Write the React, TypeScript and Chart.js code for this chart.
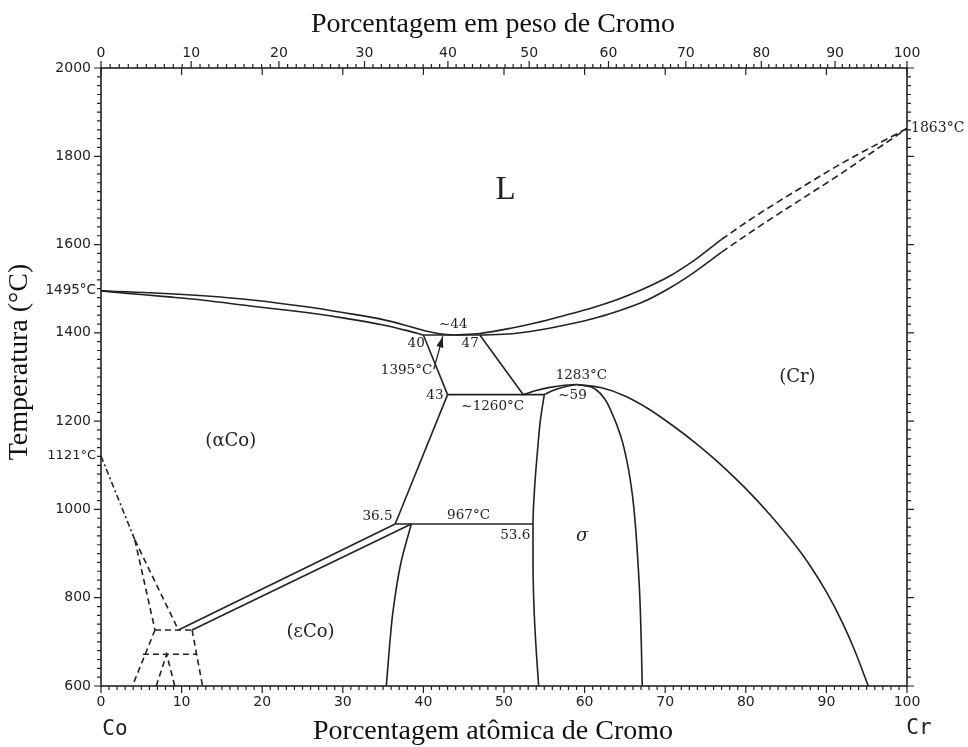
import React, { useEffect, useRef } from "react";
import { Chart, registerables } from "chart.js";

Chart.register(...registerables);

type Pt = [number, number];

// Atomic masses, used to place the weight-percent scale over the atomic-percent one
const MASS_CO = 58.933;
const MASS_CR = 51.996;

// Axis ticks
const AT_TICKS = [0, 10, 20, 30, 40, 50, 60, 70, 80, 90, 100];
const WT_TICKS = [0, 10, 20, 30, 40, 50, 60, 70, 80, 90, 100];
const T_TICKS = [600, 800, 1000, 1200, 1400, 1600, 1800, 2000];

// Liquid / solid two-phase fields (x = at.% Cr, y = °C)
const LIQUIDUS_CO_SIDE: Pt[] = [
  [0, 1495], [6, 1491], [12.7, 1484], [19, 1474], [25.5, 1459], [30, 1446],
  [35, 1430], [38, 1416], [40.3, 1404], [42, 1398], [44, 1395],
];
const SOLIDUS_CO_SIDE: Pt[] = [
  [0, 1495], [3, 1490], [8, 1482], [12.7, 1474], [18.5, 1461], [25.5, 1446],
  [30, 1434], [35, 1418], [38, 1405], [40, 1395],
];
const LIQUIDUS_CR_SIDE: Pt[] = [
  [44, 1395], [47, 1398.5], [51, 1411], [54, 1423], [57.6, 1440], [61, 1457],
  [64, 1475], [67, 1497], [70.4, 1527], [73.5, 1563], [77, 1612],
];
const SOLIDUS_CR_SIDE: Pt[] = [
  [47, 1395], [51, 1398], [54, 1405.5], [57.6, 1418], [61, 1432], [64, 1448.5],
  [67, 1468], [70.4, 1500], [73.5, 1536], [77, 1583],
];
const LIQUIDUS_CR_EXT: Pt[] = [[77, 1612], [81, 1662], [86.7, 1727], [92, 1785], [100, 1863]];
const SOLIDUS_CR_EXT: Pt[] = [[77, 1583], [82, 1645], [87, 1704], [92, 1763], [96, 1813], [100, 1863]];

// Invariant reactions and solid-state boundaries
const ISO_1395: Pt[] = [[40, 1395], [47, 1395]];
const ALPHA_EDGE_HIGH: Pt[] = [[40, 1395], [43, 1260]];
const CR_EDGE_HIGH: Pt[] = [[47, 1395], [52.4, 1260]];
const ISO_1260: Pt[] = [[43, 1260], [55, 1260]];
const CR_SOLVUS_RISE: Pt[] = [[52.4, 1260], [54, 1269.5], [55.7, 1276.5], [57.5, 1281.3], [59, 1283]];
const CR_SOLVUS_FALL: Pt[] = [
  [59, 1283], [62, 1276], [65, 1257], [68, 1227], [71, 1189], [74, 1147], [77, 1100],
  [80, 1047], [83, 988], [86, 922], [88, 872], [90, 813], [92, 743], [93.5, 681], [95.2, 600],
];
const SIGMA_TOP_LEFT: Pt[] = [[55, 1260], [56, 1269], [57.8, 1279], [59, 1283]];
const SIGMA_RIGHT: Pt[] = [
  [59, 1283], [60.5, 1279], [61.5, 1270], [62.5, 1250], [63.3, 1222], [64.5, 1165],
  [65.3, 1105], [65.95, 1030], [66.35, 953], [66.62, 880], [66.85, 802], [67.03, 700], [67.15, 600],
];
const SIGMA_LEFT: Pt[] = [
  [55, 1260], [54.5, 1200], [54.2, 1142], [53.8, 1050], [53.6, 967], [53.6, 880],
  [53.75, 765], [54, 680], [54.3, 600],
];
const ALPHA_EDGE_LOW: Pt[] = [[43, 1260], [36.5, 967]];
const ISO_967: Pt[] = [[36.5, 967], [53.6, 967]];
const EPS_SOLVUS: Pt[] = [[38.5, 967], [37.2, 878], [36.2, 765], [35.8, 690], [35.4, 600]];
const BAND_UPPER: Pt[] = [[9.6, 727], [36.5, 967]];
const BAND_LOWER: Pt[] = [[11.3, 727], [38.5, 967]];

// Uncertain low-temperature region near pure Co
const CO_ALLOTROPIC: Pt[] = [[0, 1121], [4.2, 931]];
const DASH_BRANCH_A: Pt[] = [[4.2, 931], [6.7, 727]];
const DASH_BRANCH_B: Pt[] = [[4.2, 931], [9.6, 727]];
const DASH_ISO_727: Pt[] = [[6.7, 727], [11.3, 727]];
const DASH_LEFT_LOW: Pt[] = [[6.7, 727], [3.9, 600]];
const DASH_RIGHT_LOW: Pt[] = [[11.3, 727], [12.6, 600]];
const DASH_ISO_672: Pt[] = [[5.2, 672], [11.9, 672]];
const DASH_PEAK: Pt[] = [[6.85, 600], [8.15, 672], [9.15, 600]];

// Pointer from the 1395 °C note to the congruent minimum
const ARROW: Pt[] = [[41.3, 1318], [42.4, 1392]];

const INK = "#222";
const TICK_FONT = { family: "DejaVu Sans", size: 14 };
const NOTE_FONT = '13.5px "DejaVu Serif"';
const PHASE_FONT = '18px "DejaVu Serif"';

type Note = { text: string; x: number; t: number; align: CanvasTextAlign; font: string; dx?: number };
const NOTES: Note[] = [
  { text: "L", x: 50.2, t: 1724, align: "center", font: '33px "Liberation Serif"' },
  { text: "(αCo)", x: 16.1, t: 1155, align: "center", font: PHASE_FONT },
  { text: "(εCo)", x: 26, t: 721, align: "center", font: PHASE_FONT },
  { text: "(Cr)", x: 86.4, t: 1299, align: "center", font: PHASE_FONT },
  { text: "σ", x: 59.7, t: 940, align: "center", font: 'italic 18px "DejaVu Serif"' },
  { text: "~44", x: 43.7, t: 1419, align: "center", font: NOTE_FONT },
  { text: "40", x: 39.1, t: 1375, align: "center", font: NOTE_FONT },
  { text: "47", x: 45.8, t: 1375, align: "center", font: NOTE_FONT },
  { text: "1395°C", x: 41.1, t: 1314, align: "right", font: NOTE_FONT },
  { text: "43", x: 42.5, t: 1257, align: "right", font: NOTE_FONT },
  { text: "~1260°C", x: 48.6, t: 1234, align: "center", font: NOTE_FONT },
  { text: "1283°C", x: 59.6, t: 1303, align: "center", font: NOTE_FONT },
  { text: "~59", x: 58.5, t: 1257, align: "center", font: NOTE_FONT },
  { text: "36.5", x: 34.3, t: 985, align: "center", font: NOTE_FONT },
  { text: "967°C", x: 45.6, t: 987, align: "center", font: NOTE_FONT },
  { text: "53.6", x: 51.4, t: 940, align: "center", font: NOTE_FONT },
  { text: "1495°C", x: 0, t: 1495, align: "right", font: '13.5px "DejaVu Sans"', dx: -5 },
  { text: "1121°C", x: 0, t: 1121, align: "right", font: '13px "DejaVu Sans"', dx: -5 },
  { text: "1863°C", x: 100, t: 1863, align: "left", font: '14px "DejaVu Serif"', dx: 4 },
];

function wtToAt(w: number): number {
  if (w <= 0) return 0;
  if (w >= 100) return 100;
  const cr = w / MASS_CR;
  const co = (100 - w) / MASS_CO;
  return (100 * cr) / (cr + co);
}

function line(points: Pt[], extra: Record<string, unknown> = {}) {
  return {
    data: points.map(([x, y]) => ({ x, y })),
    borderColor: INK,
    borderWidth: 1.6,
    pointRadius: 0,
    fill: false,
    tension: 0,
    ...extra,
  };
}

const decorations = {
  id: "decorations",
  afterDatasetsDraw(chart: any) {
    const { ctx, chartArea: a, scales } = chart;
    const xs = scales.x;
    const ys = scales.y;
    ctx.save();
    ctx.strokeStyle = INK;
    ctx.fillStyle = INK;
    ctx.lineWidth = 1.6;
    ctx.strokeRect(a.left, a.top, a.right - a.left, a.bottom - a.top);

    ctx.lineWidth = 1.2;
    ctx.beginPath();
    // atomic-percent ticks: outward at the bottom, inward majors on the top edge
    for (let v = 0; v <= 100; v++) {
      const px = xs.getPixelForValue(v);
      const major = v % 10 === 0;
      ctx.moveTo(px, a.bottom);
      ctx.lineTo(px, a.bottom + (major ? 7 : 4));
      if (major) {
        ctx.moveTo(px, a.top);
        ctx.lineTo(px, a.top + 7);
      }
    }
    // weight-percent ticks along the top, outward
    for (let w = 0; w <= 100; w++) {
      const px = xs.getPixelForValue(wtToAt(w));
      ctx.moveTo(px, a.top);
      ctx.lineTo(px, a.top - (w % 10 === 0 ? 7 : 4));
    }
    // temperature ticks on both sides
    for (let t = 600; t <= 2000; t += 20) {
      const py = ys.getPixelForValue(t);
      const len = t % 200 === 0 ? 7 : 4;
      ctx.moveTo(a.left, py);
      ctx.lineTo(a.left - len, py);
      ctx.moveTo(a.right, py);
      ctx.lineTo(a.right + len, py);
    }
    ctx.stroke();

    // arrow head
    const [p0, p1] = ARROW;
    const x0 = xs.getPixelForValue(p0[0]);
    const y0 = ys.getPixelForValue(p0[1]);
    const x1 = xs.getPixelForValue(p1[0]);
    const y1 = ys.getPixelForValue(p1[1]);
    const ang = Math.atan2(y1 - y0, x1 - x0);
    const hl = 11;
    const hw = 3.5;
    ctx.beginPath();
    ctx.moveTo(x1, y1);
    ctx.lineTo(x1 - hl * Math.cos(ang) + hw * Math.sin(ang), y1 - hl * Math.sin(ang) - hw * Math.cos(ang));
    ctx.lineTo(x1 - hl * Math.cos(ang) - hw * Math.sin(ang), y1 - hl * Math.sin(ang) + hw * Math.cos(ang));
    ctx.closePath();
    ctx.fill();

    // phase labels and notes
    ctx.textBaseline = "middle";
    for (const n of NOTES) {
      ctx.font = n.font;
      ctx.textAlign = n.align;
      ctx.fillText(n.text, xs.getPixelForValue(n.x) + (n.dx || 0), ys.getPixelForValue(n.t));
    }

    // axis titles and end-member symbols
    const cx = (a.left + a.right) / 2 - 11;
    ctx.fillStyle = "#111";
    ctx.font = '28px "Liberation Serif"';
    ctx.textAlign = "center";
    ctx.textBaseline = "alphabetic";
    ctx.fillText("Porcentagem em peso de Cromo", cx, 32);
    ctx.fillText("Porcentagem atômica de Cromo", cx, 739);
    ctx.save();
    ctx.translate(20, 362);
    ctx.rotate(-Math.PI / 2);
    ctx.textBaseline = "middle";
    ctx.fillText("Temperatura (°C)", 0, 0);
    ctx.restore();

    ctx.fillStyle = INK;
    ctx.font = '21px "DejaVu Sans Mono"';
    ctx.textBaseline = "middle";
    ctx.textAlign = "center";
    ctx.fillText("Co", xs.getPixelForValue(0) + 14, 730);
    ctx.fillText("Cr", xs.getPixelForValue(100) + 12, 729);
    ctx.restore();
  },
};

export default function App() {
  const ref = useRef<HTMLCanvasElement>(null);

  useEffect(() => {
    if (!ref.current) return;
    const straight = (p: Pt[]) => line(p);
    // smooth curves, interpolated along composition
    const curve = (p: Pt[], dash?: number[]) =>
      line(p, { cubicInterpolationMode: "monotone", ...(dash ? { borderDash: dash } : {}) });
    // near-vertical smooth curves, interpolated along temperature
    const steep = (p: Pt[]) => line(p, { cubicInterpolationMode: "monotone", indexAxis: "y" });
    const dashed = (p: Pt[], dash: number[]) => line(p, { borderDash: dash });

    const datasets = [
      curve(LIQUIDUS_CO_SIDE),
      curve(SOLIDUS_CO_SIDE),
      curve(LIQUIDUS_CR_SIDE),
      curve(SOLIDUS_CR_SIDE),
      curve(LIQUIDUS_CR_EXT, [7, 4]),
      curve(SOLIDUS_CR_EXT, [7, 4]),
      straight(ISO_1395),
      straight(ALPHA_EDGE_HIGH),
      straight(CR_EDGE_HIGH),
      straight(ISO_1260),
      curve(CR_SOLVUS_RISE),
      curve(CR_SOLVUS_FALL),
      curve(SIGMA_TOP_LEFT),
      steep(SIGMA_RIGHT),
      steep(SIGMA_LEFT),
      straight(ALPHA_EDGE_LOW),
      straight(ISO_967),
      steep(EPS_SOLVUS),
      straight(BAND_UPPER),
      straight(BAND_LOWER),
      dashed(CO_ALLOTROPIC, [6, 3, 2, 3]),
      dashed(DASH_BRANCH_A, [6, 4]),
      dashed(DASH_BRANCH_B, [6, 4]),
      dashed(DASH_ISO_727, [6, 4]),
      dashed(DASH_LEFT_LOW, [6, 4]),
      dashed(DASH_RIGHT_LOW, [6, 4]),
      dashed(DASH_ISO_672, [6, 4]),
      dashed(DASH_PEAK, [6, 4]),
      line(ARROW, { borderWidth: 1.3 }),
    ];

    const chart = new Chart(ref.current, {
      type: "line",
      data: { datasets: datasets as any },
      options: {
        animation: false,
        responsive: true,
        maintainAspectRatio: false,
        events: [],
        layout: { padding: 0 },
        plugins: {
          legend: { display: false },
          tooltip: { enabled: false },
          title: { display: false },
        },
        scales: {
          x: {
            type: "linear",
            position: "bottom",
            min: 0,
            max: 100,
            afterBuildTicks: (s: any) => {
              s.ticks = AT_TICKS.map((v) => ({ value: v }));
            },
            afterFit: (s: any) => {
              s.height = 61;
            },
            ticks: {
              autoSkip: false,
              maxRotation: 0,
              padding: 8,
              font: TICK_FONT,
              color: INK,
              callback: (v: any) => String(v),
            },
            grid: { display: false, drawTicks: false },
            border: { display: false },
          },
          xTop: {
            type: "linear",
            position: "top",
            min: 0,
            max: 100,
            afterBuildTicks: (s: any) => {
              s.ticks = WT_TICKS.map((w) => ({ value: wtToAt(w) }));
            },
            afterFit: (s: any) => {
              s.height = 68;
            },
            ticks: {
              autoSkip: false,
              maxRotation: 0,
              padding: 6,
              font: TICK_FONT,
              color: INK,
              callback: (_v: any, i: number) => String(WT_TICKS[i]),
            },
            grid: { display: false, drawTicks: false },
            border: { display: false },
          },
          y: {
            type: "linear",
            position: "left",
            min: 600,
            max: 2000,
            afterBuildTicks: (s: any) => {
              s.ticks = T_TICKS.map((v) => ({ value: v }));
            },
            afterFit: (s: any) => {
              s.width = 101;
            },
            ticks: {
              autoSkip: false,
              padding: 10,
              font: TICK_FONT,
              color: INK,
              callback: (v: any) => String(v),
            },
            grid: { display: false, drawTicks: false },
            border: { display: false },
          },
          yRight: {
            type: "linear",
            position: "right",
            min: 600,
            max: 2000,
            afterFit: (s: any) => {
              s.width = 61;
            },
            ticks: { display: false },
            grid: { display: false, drawTicks: false },
            border: { display: false },
          },
        },
      },
      plugins: [decorations],
    });

    return () => chart.destroy();
  }, []);

  return (
    <div style={{ position: "fixed", left: 0, top: 0, width: 968, height: 747, background: "#fff" }}>
      <canvas ref={ref} />
    </div>
  );
}
